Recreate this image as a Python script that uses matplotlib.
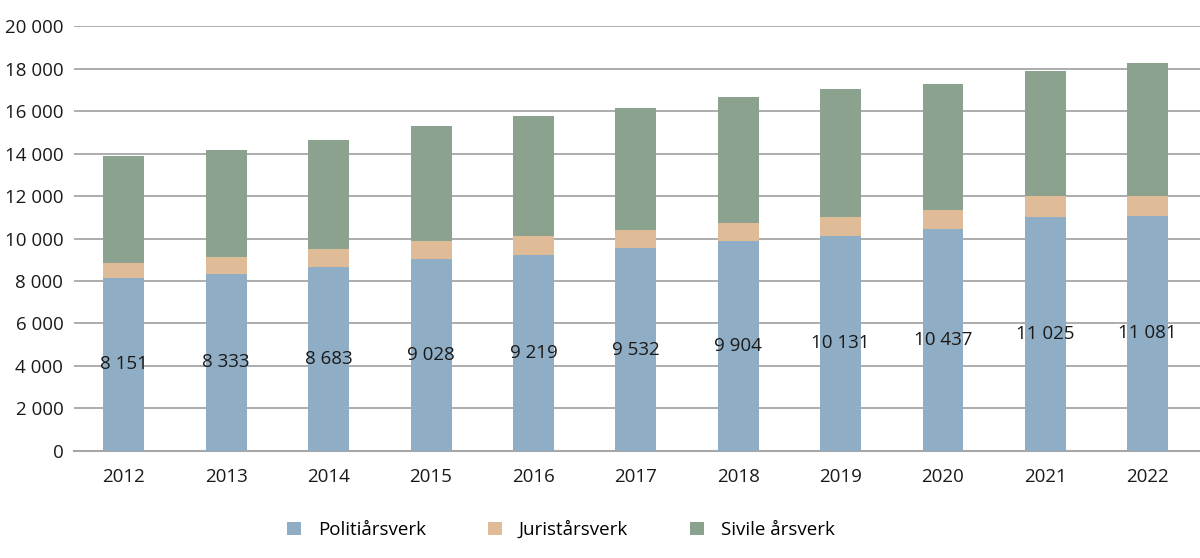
import matplotlib.pyplot as plt
import numpy as np

years = ['2012', '2013', '2014', '2015', '2016', '2017', '2018', '2019', '2020', '2021', '2022']
politi = [8151, 8333, 8683, 9028, 9219, 9532, 9904, 10131, 10437, 11025, 11081]
jurist = [710, 800, 810, 840, 900, 860, 840, 870, 930, 990, 930]
sivile = [5040, 5020, 5160, 5410, 5660, 5770, 5920, 6040, 5920, 5890, 6280]
yticks = [0, 2000, 4000, 6000, 8000, 10000, 12000, 14000, 16000, 18000, 20000]

plt.rcParams['font.family'] = ['Open Sans', 'DejaVu Sans']

fig = plt.figure(figsize=(12, 5.58), dpi=100)
ax = fig.add_axes([0.062, 0.192, 0.938, 0.761])

x = np.arange(len(years))
p = np.array(politi)
j = np.array(jurist)
s = np.array(sivile)
w = 0.40
ax.bar(x, p, w, color='#8fadc4', label='Politiårsverk', zorder=3)
ax.bar(x, j, w, bottom=p, color='#e0bb98', label='Juristårsverk', zorder=3)
ax.bar(x, s, w, bottom=p + j, color='#8ba28f', label='Sivile årsverk', zorder=3)

for xi, v in zip(x, politi):
    ax.text(xi, v / 2, f'{v:,}'.replace(',', ' '), ha='center', va='center',
            fontsize=13.5, color='#1a1a1a', zorder=4)

ax.set_xlim(-0.483, 10.51)
ax.set_ylim(0, 20000)
ax.set_yticks(yticks)
ax.set_yticklabels([f'{v:,}'.replace(',', ' ') for v in yticks])
ax.set_xticks(x)
ax.set_xticklabels(years)
ax.yaxis.grid(True, color='#a6a6a6', linewidth=1.3, zorder=0)
for sp in ['left', 'right', 'top']:
    ax.spines[sp].set_visible(False)
ax.spines['bottom'].set_color('#a6a6a6')
ax.spines['bottom'].set_linewidth(1.5)
ax.tick_params(axis='both', length=0, labelsize=13.5, colors='#1a1a1a')
ax.tick_params(axis='x', pad=12)
ax.tick_params(axis='y', pad=8)

ax.legend(loc='center', bbox_to_anchor=(0.432, -0.186), ncol=3, frameon=False,
          fontsize=13.5, handlelength=0.75, handleheight=0.75, handletextpad=0.9,
          columnspacing=3.3)

fig.savefig('out.png', dpi=100)
